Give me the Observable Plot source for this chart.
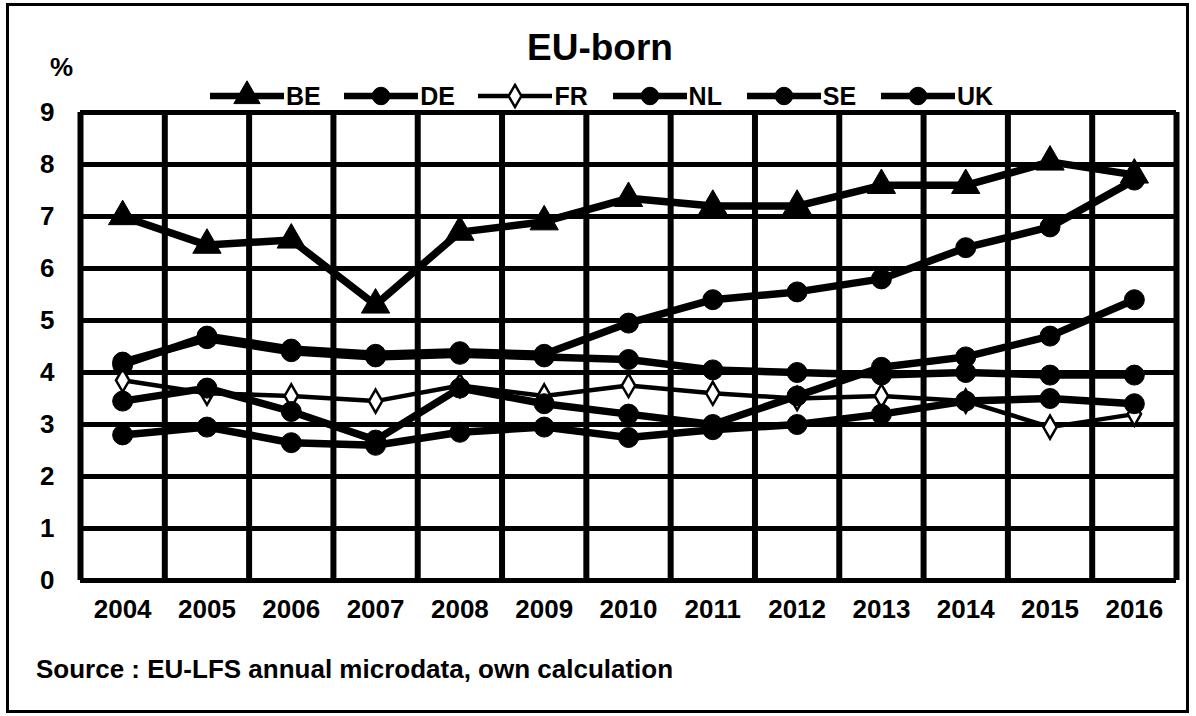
<!DOCTYPE html>
<html>
<head>
<meta charset="utf-8">
<script src="https://cdn.jsdelivr.net/npm/d3@7"></script>
<script src="https://cdn.jsdelivr.net/npm/@observablehq/plot@0.6"></script>
<style>
  body { margin: 0; background: #fff; font-family: "Liberation Sans", Arial, sans-serif; }
  #wrap { position: relative; width: 1196px; height: 716px; overflow: hidden; background: #fff; }
  #chart { position: absolute; left: 0; top: 0; }
  #frame { position: absolute; left: 6px; top: 3px; width: 1177px; height: 704px; border: 3px solid #000; }
  #title { position: absolute; left: 0; width: 1200px; top: 28px; text-align: center; font-weight: bold; font-size: 37px; line-height: 40px; color: #000; }
  #unit { position: absolute; left: 50px; top: 52px; font-weight: bold; font-size: 26px; line-height: 30px; }
  #legend { position: absolute; left: 0; top: 80px; width: 1196px; height: 32px; }
  .item { position: absolute; top: 0; height: 32px; display: flex; align-items: center; }
  .item span { font-weight: bold; font-size: 25px; line-height: 30px; margin-left: 2px; }
  #caption { position: absolute; left: 36px; top: 654px; font-weight: bold; font-size: 26px; line-height: 30px; white-space: nowrap; }
</style>
</head>
<body>
<div id="wrap">
  <div id="chart"></div>
  <div id="frame"></div>
  <div id="title">EU-born</div>
  <div id="unit">%</div>
  <div id="legend"></div>
  <div id="caption">Source : EU-LFS annual microdata, own calculation</div>
</div>
<script>
// ---- data ----
const years = [2004, 2005, 2006, 2007, 2008, 2009, 2010, 2011, 2012, 2013, 2014, 2015, 2016];
const seriesNames = ["BE", "DE", "FR", "NL", "SE", "UK"];
const BE = [7.0, 6.45, 6.55, 5.3, 6.7, 6.9, 7.35, 7.2, 7.2, 7.6, 7.6, 8.05, 7.8];
const DE = [4.15, 4.7, 4.45, 4.35, 4.4, 4.35, 4.95, 5.4, 5.55, 5.8, 6.4, 6.8, 7.7];
const FR = [3.85, 3.6, 3.55, 3.45, 3.75, 3.55, 3.75, 3.6, 3.5, 3.55, 3.45, 2.95, 3.2];
const NL = [2.8, 2.95, 2.65, 2.6, 2.85, 2.95, 2.75, 2.9, 3.0, 3.2, 3.45, 3.5, 3.4];
const SE = [4.2, 4.65, 4.4, 4.3, 4.35, 4.3, 4.25, 4.05, 4.0, 3.95, 4.0, 3.95, 3.95];
const UK = [3.45, 3.7, 3.25, 2.7, 3.7, 3.4, 3.2, 3.0, 3.55, 4.1, 4.3, 4.7, 5.4];
const yTicks = [0, 1, 2, 3, 4, 5, 6, 7, 8, 9];
const caption = "Source : EU-LFS annual microdata, own calculation";

const valuesBySeries = {BE, DE, FR, NL, SE, UK};
const symbols = {BE: "triangle", DE: "circle", FR: "diamond", NL: "circle", SE: "circle", UK: "circle"};

const rows = seriesNames.flatMap(s => years.map((yr, i) => ({series: s, year: yr, value: valuesBySeries[s][i]})));
const boundaries = years.map(y => y - 0.5).concat([years[years.length - 1] + 0.5]);

const lineW = s => s === "FR" ? 4.5 : 7.5;

const marks = [
  Plot.ruleY(yTicks, {stroke: "#000", strokeWidth: 5}),
  Plot.ruleX(boundaries, {stroke: "#000", strokeWidth: 6})
];
for (const s of seriesNames) {
  const d = rows.filter(r => r.series === s);
  marks.push(Plot.line(d, {x: "year", y: "value", stroke: "#000", strokeWidth: lineW(s), strokeLinejoin: "round", strokeLinecap: "round"}));
}
for (const s of seriesNames) {
  const d = rows.filter(r => r.series === s);
  if (s === "FR") {
    marks.push(Plot.dot(d, {x: "year", y: "value", symbol: "diamond", r: 7, fill: "#fff", stroke: "#000", strokeWidth: 2.5}));
  } else if (s === "BE") {
    marks.push(Plot.dot(d, {x: "year", y: "value", symbol: "triangle", r: 10.5, fill: "#000", stroke: "#000", strokeWidth: 1}));
  } else {
    marks.push(Plot.dot(d, {x: "year", y: "value", symbol: "circle", r: 10, fill: "#000", stroke: "#000", strokeWidth: 1}));
  }
}
marks.push(Plot.axisY({ticks: yTicks, tickSize: 0, tickPadding: 26, fontSize: 26, fontWeight: "bold", tickFormat: d => String(d)}));
marks.push(Plot.axisX({ticks: years, tickSize: 0, tickPadding: 19, fontSize: 26, fontWeight: "bold", tickFormat: d => String(d)}));

const chart = Plot.plot({
  width: 1196,
  height: 716,
  marginLeft: 80,
  marginRight: 20,
  marginTop: 112,
  marginBottom: 136,
  style: {fontFamily: '"Liberation Sans", Arial, sans-serif', color: "#000", background: "#fff", overflow: "visible"},
  x: {domain: [years[0] - 0.5, years[years.length - 1] + 0.5], label: null},
  y: {domain: [yTicks[0], yTicks[yTicks.length - 1]], label: null},
  marks
});
document.getElementById("chart").appendChild(chart);

// legend
const legend = document.getElementById("legend");
seriesNames.forEach((s, i) => {
  const item = document.createElement("div");
  item.className = "item";
  item.style.left = (210 + i * 134.2) + "px";
  const svg = d3.create("svg").attr("width", 74).attr("height", 32);
  svg.append("line").attr("x1", 0).attr("x2", 74).attr("y1", 16).attr("y2", 16)
     .attr("stroke", "#000").attr("stroke-width", s === "FR" ? 4.5 : 6.5);
  const type = s === "BE" ? d3.symbolTriangle : s === "FR" ? d3.symbolDiamond : d3.symbolCircle;
  const size = s === "BE" ? 300 : s === "FR" ? 140 : 240;
  svg.append("path").attr("d", d3.symbol(type, size)()).attr("transform", "translate(37,16)")
     .attr("fill", s === "FR" ? "#fff" : "#000").attr("stroke", "#000").attr("stroke-width", s === "FR" ? 2.5 : 1);
  item.appendChild(svg.node());
  const label = document.createElement("span");
  label.textContent = s;
  item.appendChild(label);
  legend.appendChild(item);
});
document.getElementById("caption").textContent = caption;
</script>
</body>
</html>
